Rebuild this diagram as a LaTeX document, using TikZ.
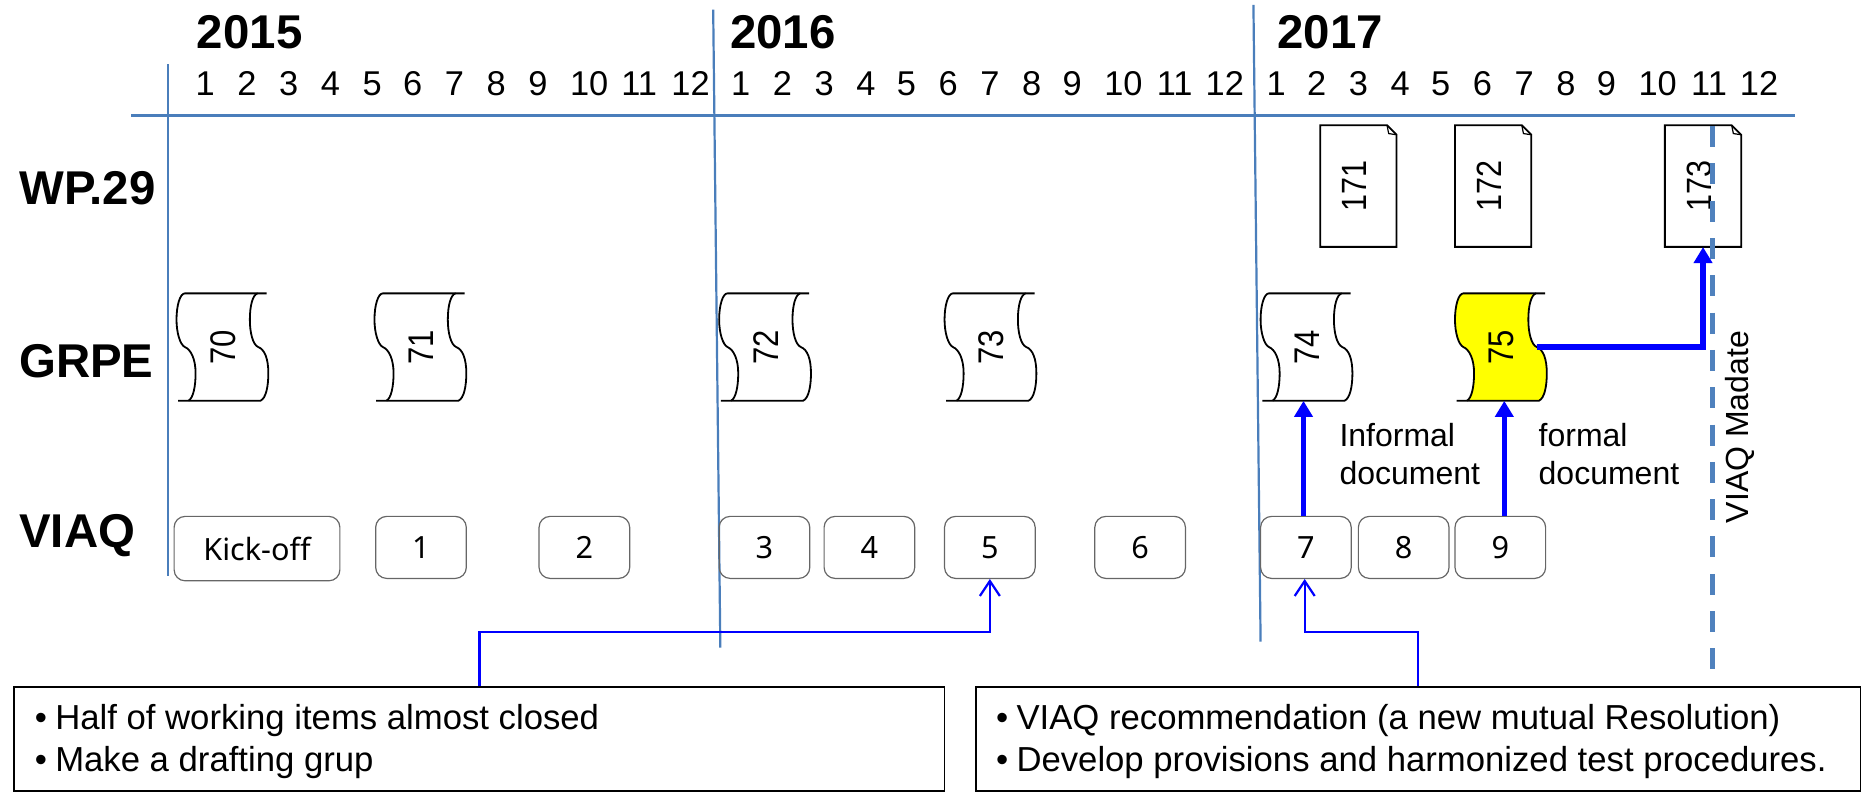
\documentclass[tikz,border=0pt]{standalone}
\usepackage{fontspec}
\usepackage{graphicx}
\setmainfont{Liberation Sans}
\newfontfamily\boxfont{Noto Sans}
\usetikzlibrary{arrows.meta,calc}
\definecolor{rule}{HTML}{4A7EBB}
\definecolor{flow}{RGB}{0,0,255}
\definecolor{dashblue}{HTML}{4F81BD}
\definecolor{marked}{RGB}{255,255,0}
\newcommand{\fs}[1]{\fontsize{#1}{#1}\selectfont}
\tikzset{
  x=1.1926pt,y=-1.1926pt,
  timeline/.style={draw=rule,line width=2.5pt},
  yearlabel/.style={anchor=west,inner sep=0pt,font=\fs{47.4}\bfseries},
  monthlabel/.style={inner sep=0pt,font=\fs{34.4}},
  rowlabel/.style={anchor=west,inner sep=0pt,font=\fs{47.4}\bfseries},
  notelabel/.style={anchor=west,inner sep=0pt,font=\fs{32}},
  outline/.style={draw=black,line width=1.8pt},
  meeting/.style={draw=black!60,line width=1.2pt,rounded corners=11pt,inner sep=0pt,font=\boxfont\fs{30.6}},
  strong/.style={draw=flow,line width=5.6pt,-{Triangle[length=16pt,width=18pt]}},
  weak/.style={draw=flow,line width=2.2pt,-{Straight Barb[length=15pt,width=20pt,line width=2.2pt]}},
  notebox/.style={draw=black,line width=1.9pt,inner sep=0pt},
  bullets/.style={anchor=base west,inner sep=0pt,font=\fs{34.7}},
}
% document sheet: name, left, top, text
\newcommand{\sheet}[4]{%
  \draw[outline,fill=white] (#2,#3) -- ++(56,0) -- ++(8,8) -- ++(0,94) -- ++(-64,0) -- cycle;
  \draw[outline,line width=1.2pt] (#2+56,#3) -- ++(1.4,7) -- ++(6.6,1);
  \node[inner sep=0pt,minimum width=76.3pt,minimum height=121.6pt,font=\fs{30.5}] (#1) at (#2+29,#3+51) {\rotatebox{90}{\scalebox{1}[1.15]{#4}}};
}
% tape: name, left, fill, text
\newcommand{\tape}[4]{%
  \begin{scope}[shift={(#2,246)}]
    \fill[#3] (7,0) -- (68,0) .. controls (64,1) and (61.5,10) .. (61.5,22) .. controls (61.5,33) and (64,43) .. (68.5,45)
      .. controls (74,47) and (77,55) .. (77,67) .. controls (77,78) and (75,88) .. (70.4,90) -- (10,90)
      .. controls (14,88) and (16,78) .. (16,67) .. controls (16,55) and (12,47) .. (7,45)
      .. controls (3,43) and (0,33) .. (0,22) .. controls (0,10) and (3,0) .. (7,0) -- cycle;
    \draw[outline] (1.4,90) -- (70.4,90) .. controls (75,88) and (77,78) .. (77,67) .. controls (77,55) and (74,47) .. (68.5,45)
      .. controls (64,43) and (61.5,33) .. (61.5,22) .. controls (61.5,10) and (64,1) .. (68,0) -- (75.5,0);
    \draw[outline] (68,0) -- (7,0) .. controls (3,0) and (0,10) .. (0,22) .. controls (0,33) and (3,43) .. (7,45)
      .. controls (12,47) and (16,55) .. (16,67) .. controls (16,78) and (14,88) .. (10,90);
    \node[inner sep=0pt,minimum width=91.8pt,minimum height=107.3pt,font=\fs{31}] (#1) at (39,45) {\rotatebox{90}{\scalebox{1}[1.15]{#4}}};
    \coordinate (#1r) at (68.5,45);
  \end{scope}
}
% meeting box: name, left, right, bottom, text
\newcommand{\meet}[5]{%
  \node[meeting,minimum width={(#3-#2)*1.1926pt},minimum height={(#4-433)*1.1926pt}] (#1) at ({(#2+#3)/2},{(#4+433)/2}) {#5};
}
\begin{document}
\begin{tikzpicture}
\useasboundingbox (0,0) rectangle (1568,664.9);

% axes
\coordinate (hl) at (110,97); \coordinate (hr) at (1505,97);
\draw[timeline] (hl) -- (hr);
\coordinate (v1t) at (141,54); \coordinate (v1b) at (141,483);
\coordinate (v2t) at (598,8);  \coordinate (v2b) at (604,543);
\coordinate (v3t) at (1051,4); \coordinate (v3b) at (1057,538);
\draw[timeline,line width=2.2pt] (v1t) -- (v1b);
\draw[timeline,line width=2.2pt] (v2t) -- (v2b);
\draw[timeline,line width=2.2pt] (v3t) -- (v3b);

% years
\node[yearlabel] (y15) at (165,27) {2015};
\node[yearlabel] (y16) at (612,27) {2016};
\node[yearlabel] (y17) at (1071,27) {2017};

% months
\foreach \m/\x in {1/172,2/207,3/242,4/277,5/312,6/346,7/381,8/416,9/451,10/494,11/536,12/579}
  \node[monthlabel] (ma\m) at (\x,70) {\m};
\foreach \m/\x in {1/621,2/656,3/691,4/726,5/760,6/795,7/830,8/865,9/899,10/942,11/985,12/1027}
  \node[monthlabel] (mb\m) at (\x,70) {\m};
\foreach \m/\x in {1/1070,2/1104,3/1139,4/1174,5/1208,6/1243,7/1278,8/1313,9/1347,10/1390,11/1433,12/1475}
  \node[monthlabel] (mc\m) at (\x,70) {\m};

% rows
\node[rowlabel] (rw) at (16,158) {WP.29};
\node[rowlabel] (rg) at (16,303) {GRPE};
\node[rowlabel] (rv) at (16,449) {VIAQ};

% WP.29 documents
\sheet{d171}{1107}{105}{171}
\sheet{d172}{1220}{105}{172}
\sheet{d173}{1396}{105}{173}

% deadline
\coordinate (dt) at (1436,97); \coordinate (db) at (1436,562);
\draw[draw=dashblue,line width=5pt,dash pattern=on 21pt off 16.3pt,dash phase=26.8pt] (dt) -- (db);

% GRPE sessions
\tape{t70}{148}{white}{70}
\tape{t71}{314}{white}{71}
\tape{t72}{603}{white}{72}
\tape{t73}{792}{white}{73}
\tape{t74}{1057}{white}{74}
\tape{t75}{1220}{marked}{75}

% VIAQ meetings
\meet{kick}{146}{285}{487}{Kick-off}
\meet{b1}{315}{391}{485}{1}
\meet{b2}{452}{528}{485}{2}
\meet{b3}{603}{679}{485}{3}
\meet{b4}{691}{767}{485}{4}
\meet{b5}{792}{868}{485}{5}
\meet{b6}{918}{994}{485}{6}
\meet{b7}{1057}{1133}{485}{7}
\meet{b8}{1139}{1215}{485}{8}
\meet{b9}{1220}{1296}{485}{9}

% labels
\node[notelabel] (n1) at (1123,365) {Informal};
\node[notelabel] (n2) at (1123,397) {document};
\node[notelabel] (n3) at (1290,365) {formal};
\node[notelabel] (n4) at (1290,397) {document};
\node[inner sep=0pt,font=\fs{32}] (n5) at (1459,358) {\rotatebox{90}{VIAQ Madate}};

% notes
\node[notebox,minimum width=930.2pt,minimum height=103.8pt] (lb) at (402,619.5) {};
\node[notebox,minimum width=884.9pt,minimum height=103.8pt] (rb) at (1189,619.5) {};
\node[bullets] (lt1) at (29,612) {\makebox[20.5pt][l]{\textbullet}Half of working items almost closed};
\node[bullets] (lt2) at (29,647) {\makebox[20.5pt][l]{\textbullet}Make a drafting grup};
\node[bullets] (rt1) at (835,612) {\makebox[20.5pt][l]{\textbullet}VIAQ recommendation (a new mutual Resolution)};
\node[bullets] (rt2) at (835,647) {\makebox[20.5pt][l]{\textbullet}Develop provisions and harmonized test procedures.};

% connectors
\coordinate (t1) at (600,530);
\coordinate (t2) at (1140,530);
\draw[weak] (lb.north) |- (t1) -| (b5.south);
\draw[weak] (rb.north) |- (t2) -| ([xshift=-1.2pt]b7.south);
\draw[strong] ([xshift=-2.4pt]b7.north) -- ([xshift=-2.4pt]b7.north |- t74.south);
\draw[strong] ([xshift=4pt]b9.north) -- ([xshift=4pt]b9.north |- t75.south);
\coordinate (t3) at (1428,291);
\draw[strong] (t75r) -- (t3) -- (d173.south -| t3);
\end{tikzpicture}
\end{document}
